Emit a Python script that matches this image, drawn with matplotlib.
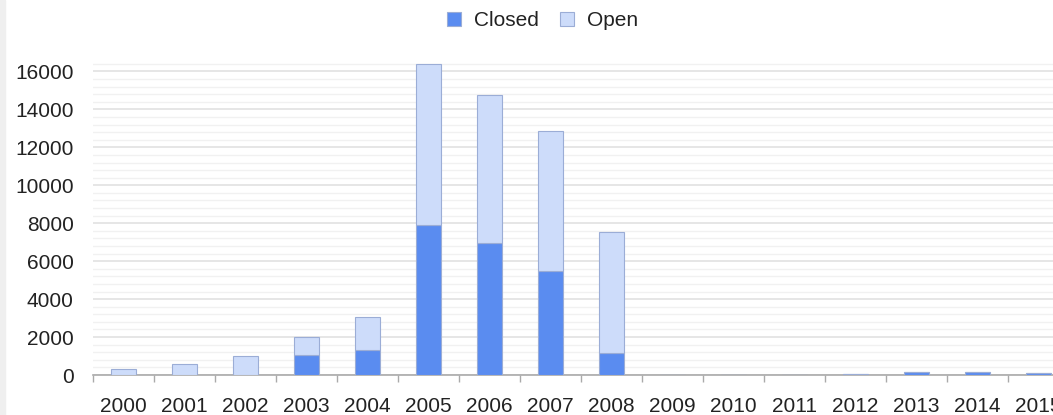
import numpy as np
import matplotlib
matplotlib.use("Agg")
import matplotlib.pyplot as plt
from matplotlib.patches import Rectangle
from matplotlib.ticker import MultipleLocator

plt.rcParams['font.family'] = ['Liberation Sans', 'DejaVu Sans']

# data
years = [str(y) for y in range(2000, 2016)]
closed = [0, 0, 0, 1050, 1320, 7920, 6970, 5490, 1160, 0, 0, 0, 40, 150, 150, 130]
open_ = [300, 600, 1000, 950, 1740, 8450, 7810, 7390, 6390, 0, 0, 0, 0, 0, 0, 0]

closed_col = '#5a8cf0'
open_col = '#cddcfa'
edge_col = '#9badd6'

fig = plt.figure(figsize=(10.53, 4.15), dpi=100)
fig.patches.append(Rectangle((0, 0), 5 / 1053, 1, transform=fig.transFigure,
                             color='#efefef', zorder=0))
ax = fig.add_axes([93 / 1053, 40 / 415, 976 / 1053, 313 / 415])

x = np.arange(len(years))
ax.bar(x, closed, width=0.4, color=closed_col, edgecolor=edge_col, linewidth=0.8,
       label='Closed', zorder=3)
ax.bar(x, open_, width=0.4, bottom=closed, color=open_col, edgecolor=edge_col,
       linewidth=0.8, label='Open', zorder=3)

ax.set_xlim(-0.5, len(years) - 0.5)
ax.set_ylim(0, 16500)
ax.yaxis.set_major_locator(MultipleLocator(2000))
ax.yaxis.set_minor_locator(MultipleLocator(400))
ax.grid(axis='y', which='major', color='#e2e2e2', linewidth=1.2, zorder=0)
ax.grid(axis='y', which='minor', color='#f1f1f1', linewidth=1.0, zorder=0)

ax.set_xticks(x)
ax.set_xticklabels(years)
ax.set_xticks(np.arange(-0.5, len(years), 1), minor=True)
ax.tick_params(axis='x', which='major', length=0, pad=16, labelsize=15, colors='#222222')
ax.tick_params(axis='x', which='minor', length=5, width=1, color='#aaaaaa', direction='out')
ax.tick_params(axis='y', which='both', length=0, pad=14, labelsize=15, labelcolor='#222222')

for s in ['top', 'right', 'left']:
    ax.spines[s].set_visible(False)
ax.spines['bottom'].set_color('#aaaaaa')
ax.spines['bottom'].set_linewidth(1.2)

fig.legend(loc='upper center', bbox_to_anchor=(0.515, 1.018), ncol=2, frameon=False,
           fontsize=15, handlelength=0.7, handleheight=0.7, handletextpad=0.6,
           columnspacing=1.0, labelcolor='#222222')

fig.savefig('out.png', dpi=100)
